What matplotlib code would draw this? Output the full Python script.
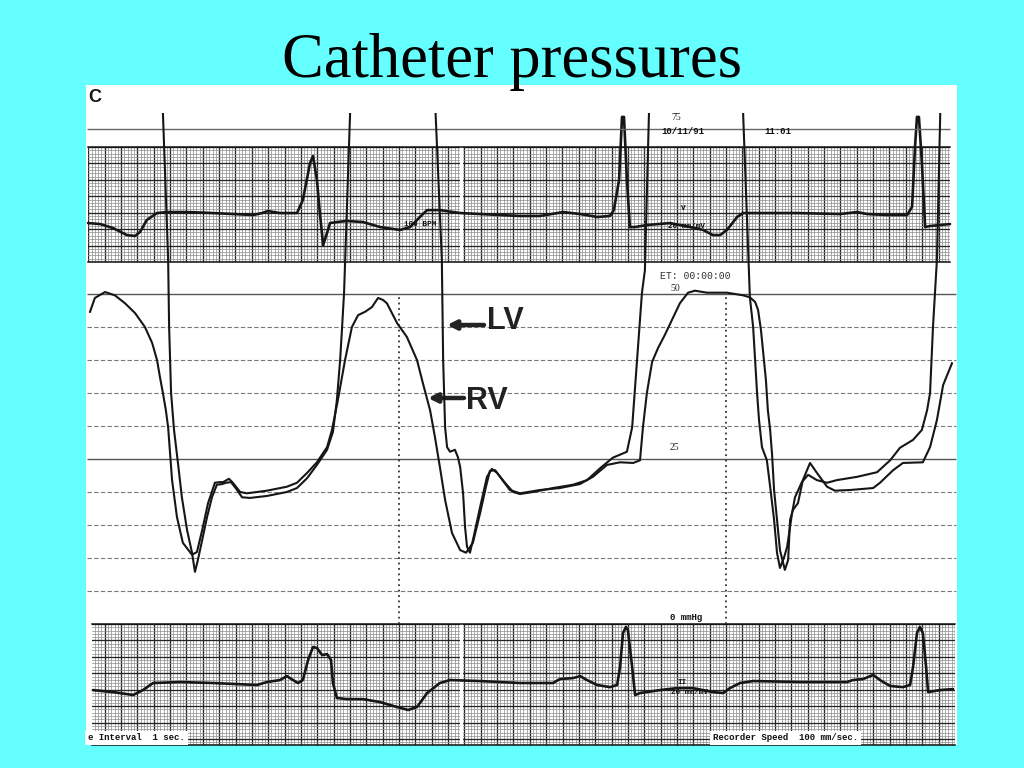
import numpy as np
import matplotlib
matplotlib.use("Agg")
import matplotlib.pyplot as plt
from matplotlib.patches import Rectangle

# ---------------- data (time in s, pressure in mmHg, ECG in grid boxes) ----------------
rv_t = [0.055,0.070,0.101,0.131,0.162,0.193,0.223,0.245,0.260,0.269,
        0.278,0.287,0.294,0.306,0.321,0.339,0.367,0.382,0.398,0.416,
        0.437,0.453,0.462,0.480,0.492,0.514,0.535,0.596,0.657,0.688,
        0.719,0.749,0.780,0.795,0.813,0.835,0.856,0.875,0.896,0.917,
        0.936,0.951,0.963,0.994,1.024,1.055,1.073,1.095,1.110,1.125,
        1.141,1.162,1.187,1.205,1.226,1.248,1.266,1.278,1.294,1.309,
        1.339,1.370,1.431,1.492,1.553,1.593,1.636,1.676,1.716,1.737,
        1.746,1.758,1.774,1.792,1.813,1.835,1.859,1.884,1.905,1.942,
        2.003,2.052,2.073,2.089,2.098,2.107,2.113,2.122,2.128,2.135,
        2.141,2.147,2.156,2.165,2.180,2.190,2.196,2.205,2.220,2.235,
        2.257,2.278,2.309,2.333,2.379,2.450,2.471,2.511,2.541,2.602,
        2.624,2.645,2.664,2.691]
rv_p = [47.3,49.4,50.3,49.8,48.6,47.1,45.0,42.6,40.0,37.4,
        35.0,32.4,29.8,21.8,16.2,12.3,10.5,10.9,14.2,18.3,
        21.4,21.5,21.5,22.0,21.4,20.0,19.8,20.2,20.8,21.4,
        22.9,24.5,26.8,29.4,33.9,40.0,45.0,46.8,47.3,48.0,
        49.4,49.1,48.6,45.6,43.5,40.0,36.5,32.4,28.3,23.8,
        18.8,13.8,11.2,10.8,12.3,16.8,20.8,23.2,23.3,22.3,
        20.3,19.8,20.3,20.6,21.2,22.3,24.1,24.5,24.4,24.8,
        29.8,35.0,39.7,41.8,43.8,46.1,48.6,50.2,50.5,50.2,
        50.2,49.8,49.5,48.8,47.6,44.5,41.5,37.0,32.4,29.4,
        25.6,20.3,15.8,11.2,8.2,9.7,15.8,17.3,18.3,21.8,
        24.4,22.9,20.8,20.2,20.3,20.6,21.4,23.3,24.4,24.5,
        26.8,30.9,36.2,39.5]

lv_t = [0.269,0.294,0.297,0.303,0.312,0.324,0.336,0.352,0.367,0.376,
        0.385,0.398,0.413,0.428,0.443,0.459,0.471,0.486,0.502,0.520,
        0.544,0.596,0.657,0.688,0.719,0.749,0.780,0.798,0.810,0.820,
        0.826,0.832,0.859,
        1.101,1.131,1.135,1.141,1.147,1.156,1.171,1.180,1.187,1.196,
        1.202,1.208,1.217,1.226,1.248,1.269,1.284,1.300,1.324,1.349,
        1.370,1.410,1.471,1.532,1.575,1.615,1.654,1.697,1.713,1.728,
        1.743,1.752,1.771,
        2.043,2.070,2.073,2.083,2.089,2.095,2.101,2.110,2.125,2.135,
        2.147,2.156,2.165,2.177,2.187,2.202,2.211,2.232,2.251,2.278,
        2.309,2.339,2.401,2.462,2.502,2.532,2.572,2.599,2.615,2.624,
        2.633,2.645,2.661]
lv_p = [90,55.2,45.0,35.0,29.4,24.4,19.2,14.2,10.8,7.9,
        9.7,12.7,16.2,19.2,21.1,21.2,21.4,21.5,20.5,19.2,
        19.1,19.4,20.0,20.6,22.1,24.1,26.4,29.1,33.9,40.0,
        45.0,50.2,90,
        90,55.2,40.0,29.8,26.8,26.1,26.4,25.3,23.8,19.8,
        14.7,11.7,10.8,12.7,17.7,22.3,23.5,22.9,21.4,20.0,
        19.7,20.0,20.6,21.1,21.8,23.6,25.2,26.1,29.8,40.0,
        50.2,53.6,90,
        90,53.6,49.5,45.0,40.0,35.0,30.9,26.8,24.8,20.8,
        15.8,10.8,8.5,10.0,11.7,16.8,19.2,21.5,22.6,21.8,
        21.4,21.8,22.3,23.0,24.8,26.7,27.9,29.4,32.4,35.0,
        45.0,55.2,90]

ecg_top_t = [0.049,0.086,0.125,0.168,0.193,0.208,0.229,0.260,0.291,0.352,
             0.431,0.554,0.581,0.599,0.636,0.688,0.706,0.728,0.737,0.749,
             0.758,0.768,0.780,0.789,0.810,0.841,0.890,0.942,1.003,1.034,
             1.064,1.086,1.125,1.187,1.248,1.370,1.431,1.502,1.554,1.606,
             1.645,1.657,1.673,1.682,1.688,1.697,1.706,1.722,1.758,1.829,
             1.890,1.930,1.960,1.982,2.003,2.034,2.052,2.095,2.217,2.349,
             2.401,2.431,2.492,2.554,2.569,2.578,2.584,2.590,2.599,2.609,
             2.624,2.685]
ecg_top_u = [2.37,2.31,2.07,1.64,1.58,1.83,2.56,2.98,3.04,3.04,
             2.98,2.86,2.98,3.10,2.98,2.98,3.77,6.03,6.45,4.99,
             2.98,1.03,1.77,2.37,2.43,2.50,2.43,2.13,1.95,2.13,
             2.74,3.16,3.16,2.98,2.92,2.80,2.80,3.04,2.92,2.74,
             2.80,3.16,4.99,8.83,8.83,4.99,2.13,2.13,2.25,2.37,
             2.13,1.95,1.64,1.64,1.95,2.74,2.98,2.98,2.98,2.92,
             3.04,2.92,2.86,2.86,3.35,7.00,8.83,8.83,6.03,2.13,
             2.19,2.31]

ecg_bot_t = [0.064,0.125,0.187,0.217,0.248,0.330,0.431,0.566,0.596,0.636,
             0.657,0.676,0.691,0.706,0.722,0.737,0.749,0.765,0.780,0.792,
             0.798,0.810,0.841,0.890,0.942,0.994,1.028,1.055,1.086,1.125,
             1.156,1.248,1.370,1.471,1.492,1.532,1.554,1.575,1.606,1.645,
             1.667,1.676,1.685,1.694,1.700,1.713,1.722,1.737,1.798,1.850,
             1.899,1.960,1.991,2.012,2.043,2.083,2.235,2.370,2.388,2.419,
             2.450,2.471,2.502,2.541,2.563,2.572,2.584,2.593,2.602,2.612,
             2.618,2.654,2.694]
ecg_bot_u = [2.98,2.86,2.68,2.98,3.41,3.47,3.41,3.29,3.47,3.59,
             3.83,3.59,3.41,3.59,4.81,5.60,5.54,5.11,5.17,4.81,
             3.41,2.50,2.43,2.43,2.25,1.95,1.77,1.95,2.80,3.41,
             3.59,3.53,3.41,3.41,3.65,3.71,3.83,3.59,3.29,3.16,
             3.29,4.38,6.45,6.82,6.63,4.38,2.68,2.80,2.98,3.10,
             3.10,2.86,2.80,3.10,3.41,3.53,3.47,3.47,3.59,3.65,
             3.90,3.59,3.23,3.16,3.29,4.38,6.45,6.82,6.45,4.38,
             2.86,2.98,3.04]

solid_levels = [50, 25]
dashed_levels = [45, 40, 35, 30, 20, 15, 10, 5]
time_marks = [1.0, 2.0]
scale_labels = ["75", "50", "25", "0 mmHg"]

# ---------------- layout helpers (pixel -> figure / data) ----------------
W, H = 1024, 768
BG = "#66FFFF"
INK = "#161616"


def fbox(x0, y0, x1, y1):
    return [x0 / W, 1 - y1 / H, (x1 - x0) / W, (y1 - y0) / H]


def tx(x):
    return (x - 72) / 327.0


def py(y):
    return (624 - y) / 6.6


fig = plt.figure(figsize=(10.24, 7.68), dpi=100, facecolor=BG)

# white panel
fig.add_artist(Rectangle((86 / W, 1 - 745 / H), 871 / W, 660 / H,
                         transform=fig.transFigure, facecolor="white",
                         edgecolor="none", zorder=-5))

fig.text(512 / W, 1 - 77 / H, "Catheter pressures", ha="center", va="baseline",
         fontsize=45, family="Liberation Serif", color="black", zorder=-4)
fig.text(88 / W, 1 - 97 / H, "C", ha="left", va="center", fontsize=13,
         weight="bold", family="Liberation Sans", color=INK)


def ecg_strip(box, xpx0, xpx1, ylo, yhi, t, u, gap_px):
    ax = fig.add_axes(box)
    ax.set_xticks(np.round(np.arange(0, 2.76, 0.05), 3))
    ax.set_xticks(np.round(np.arange(0, 2.76, 0.01), 3), minor=True)
    ax.set_yticks(np.arange(np.ceil(ylo), yhi + 0.01, 1.0))
    ax.set_yticks(np.round(np.arange(np.ceil(ylo) - 1, yhi + 0.01, 0.2), 3), minor=True)
    ax.grid(which="major", color="#262626", lw=0.95)
    ax.grid(which="minor", color="#8c8c8c", lw=0.5)
    ax.set_axisbelow(True)
    ax.tick_params(which="both", length=0, labelbottom=False, labelleft=False)
    for s in ax.spines.values():
        s.set_color("#111111")
        s.set_linewidth(1.1)
    ax.spines["left"].set_visible(False)
    ax.spines["right"].set_visible(False)
    ax.axvline(tx(gap_px), color="white", lw=2.2, zorder=1.5)
    ax.plot(t, u, color=INK, lw=1.9, clip_on=False, zorder=3,
            solid_joinstyle="round", solid_capstyle="round")
    # limits last so that tick settings cannot widen them
    ax.set_xlim(tx(xpx0), tx(xpx1))
    ax.set_ylim(ylo, yhi)
    return ax


ax_top = ecg_strip(fbox(88, 147, 950, 262), 88, 950, 0, 7, ecg_top_t, ecg_top_u, 461)
ax_bot = ecg_strip(fbox(92, 624, 955, 745), 92, 955, -0.36, 7, ecg_bot_t, ecg_bot_u, 461)

# pressure axes (transparent overlay)
axp = fig.add_axes(fbox(86, 113, 957, 745))
axp.patch.set_alpha(0)
axp.axis("off")

axp.hlines(75, tx(87), tx(950), color="#666666", lw=1.0)
axp.hlines(solid_levels, tx(87), tx(956), color="#555555", lw=1.0)
axp.hlines(dashed_levels, tx(87), tx(956), color="#7a7a7a", lw=0.8,
           linestyles=(0, (4, 2)))
axp.vlines(time_marks, 0, 50, color="#333333", lw=1.3, linestyles=(0, (1.0, 2.0)))

axp.plot(rv_t, rv_p, color=INK, lw=1.5, solid_joinstyle="round", zorder=4)
axp.plot(lv_t, lv_p, color=INK, lw=1.5, solid_joinstyle="round", zorder=4)

# scale / recorder labels
small_serif = dict(family="Liberation Serif", fontsize=7, color="#222222")
mono_b = dict(family="Liberation Mono", fontsize=6.5, weight="bold", color="#111111")
axp.text(tx(671), 75 + 11 / 6.6, scale_labels[0], ha="left", va="center", **small_serif)
axp.text(tx(670), 50 + 6 / 6.6, scale_labels[1], ha="left", va="center", **small_serif)
axp.text(tx(670), 25 + 11 / 6.6, scale_labels[2], ha="left", va="center", **small_serif)
axp.text(tx(670), py(618), scale_labels[3], ha="left", va="center", **mono_b)
axp.text(tx(661), py(131), "10/11/91", ha="left", va="center", **mono_b)
axp.text(tx(764), py(132), "11:01", ha="left", va="center", **mono_b)
axp.text(tx(660), py(276), "ET: 00:00:00", ha="left", va="center",
         family="Liberation Mono", fontsize=7, color="#333333")
axp.text(tx(404), py(224), "100 BPM", ha="left", va="center",
         family="Liberation Mono", fontsize=5.5, weight="bold", color="#111111")
axp.text(tx(681), py(208), "V", ha="left", va="center",
         family="Liberation Mono", fontsize=5.5, weight="bold", color="#111111")
axp.text(tx(668), py(226), "20 mm/mV", ha="left", va="center",
         family="Liberation Mono", fontsize=5.5, weight="bold", color="#111111")
axp.text(tx(677), py(683), "II", ha="left", va="center",
         family="Liberation Mono", fontsize=5.5, weight="bold", color="#111111")
axp.text(tx(671), py(692), "20 mm/mV", ha="left", va="center",
         family="Liberation Mono", fontsize=5.5, weight="bold", color="#111111")
axp.text(tx(88), py(738), "e Interval  1 sec.", ha="left", va="center",
         bbox=dict(facecolor="white", edgecolor="none", pad=2.0), **mono_b)
axp.text(tx(713), py(738), "Recorder Speed  100 mm/sec.", ha="left", va="center",
         bbox=dict(facecolor="white", edgecolor="none", pad=2.0), **mono_b)

# LV / RV annotations
arrow_kw = dict(arrowstyle="-|>", lw=3.2, color="#222222", mutation_scale=13,
                shrinkA=0, shrinkB=0)
axp.annotate("", xy=(tx(447), py(325)), xytext=(tx(484), py(325)), arrowprops=arrow_kw)
axp.text(tx(487), py(321), "LV", ha="left", va="center", fontsize=22,
         weight="bold", family="Liberation Sans", color="#222222")
axp.annotate("", xy=(tx(428), py(398)), xytext=(tx(464), py(398)), arrowprops=arrow_kw)
axp.text(tx(466), py(401), "RV", ha="left", va="center", fontsize=22,
         weight="bold", family="Liberation Sans", color="#222222")

axp.set_xlim(tx(86), tx(957))
axp.set_ylim(py(745), py(113))

fig.savefig("out.png", dpi=100, facecolor=fig.get_facecolor())
